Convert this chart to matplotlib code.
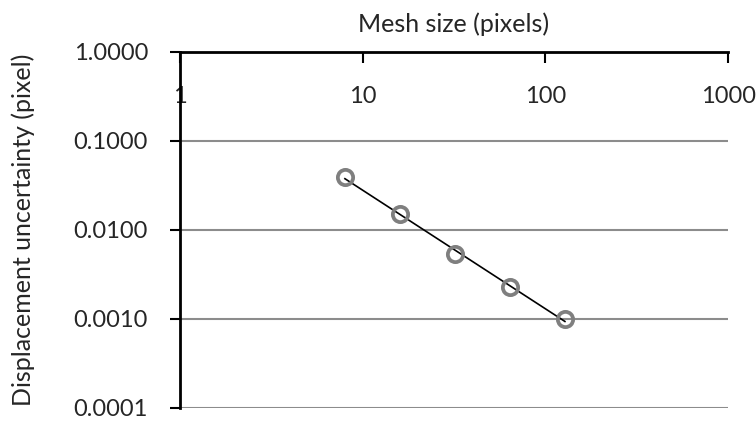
import numpy as np
import matplotlib
matplotlib.use('Agg')
from matplotlib import pyplot as plt
from matplotlib.ticker import FixedLocator, NullLocator, FixedFormatter

plt.rcParams['font.family'] = ['Lato', 'DejaVu Sans']

# Data
mesh_size = [8, 16, 32, 64, 128]
uncertainty = [0.0394, 0.0151, 0.0054, 0.0023, 0.0010]
x_ticks = [1, 10, 100, 1000]
x_labels = ['1', '10', '100', '1000']
y_ticks = [0.0001, 0.001, 0.01, 0.1, 1.0]
y_labels = ['0.0001', '0.0010', '0.0100', '0.1000', '1.0000']

fig = plt.figure(figsize=(7.56, 4.25), dpi=100)
ax = fig.add_axes([0.238, 0.04, 0.725, 0.838])
ax.set_xscale('log')
ax.set_yscale('log')
ax.set_xlim(1, 1000)
ax.set_ylim(0.0001, 1.0)

# grid lines (gray) at the decades
for yv in y_ticks[:-1]:
    ax.axhline(yv, color='#8c8c8c', lw=1.5, zorder=1)

# power trend line through the points
p = np.polyfit(np.log10(mesh_size), np.log10(uncertainty), 1)
xt = np.array([mesh_size[0], mesh_size[-1]])
ax.plot(xt, 10**np.polyval(p, np.log10(xt)), color='black', lw=1.2, zorder=3)

ax.plot(mesh_size, uncertainty, ls='none', marker='o', ms=11, mfc='none',
        mec='#7f7f7f', mew=2.7, zorder=4)

# spines
ax.spines['right'].set_visible(False)
ax.spines['bottom'].set_visible(False)
ax.spines['top'].set_linewidth(2)
ax.spines['left'].set_linewidth(2)
ax.spines['top'].set_zorder(5)
ax.spines['left'].set_zorder(5)

# x axis on top, labels below the line
ax.xaxis.set_major_locator(FixedLocator(x_ticks))
ax.xaxis.set_major_formatter(FixedFormatter(x_labels))
ax.xaxis.set_minor_locator(NullLocator())
ax.tick_params(axis='x', top=True, labeltop=True, bottom=False, labelbottom=False,
               direction='in', length=8, width=1.5, pad=-40, labelsize=17,
               labelcolor='#262626')
ax.xaxis.set_label_position('top')
ax.set_xlabel('Mesh size (pixels)', fontsize=18, labelpad=14, color='#262626')

ax.yaxis.set_major_locator(FixedLocator(y_ticks))
ax.yaxis.set_major_formatter(FixedFormatter(y_labels))
ax.yaxis.set_minor_locator(NullLocator())
ax.tick_params(axis='y', direction='out', length=7, width=1.5, pad=16, labelsize=17,
               labelcolor='#262626')
ax.set_ylabel('Displacement uncertainty (pixel)', fontsize=18, labelpad=28,
              color='#262626')

fig.savefig('out.png', dpi=100)
